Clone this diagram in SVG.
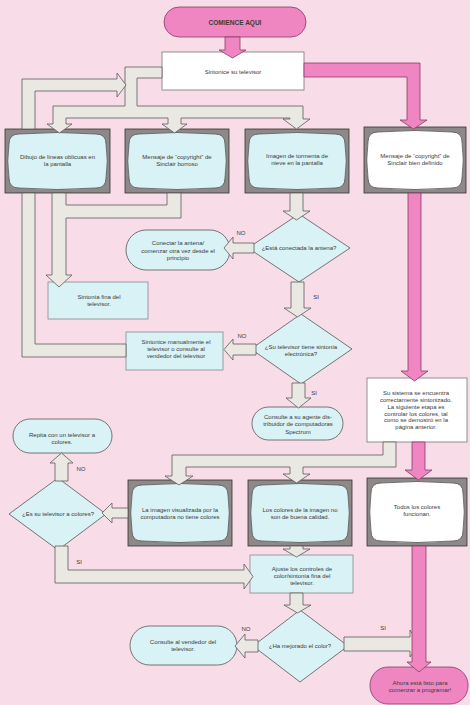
<svg xmlns="http://www.w3.org/2000/svg" width="470" height="705" viewBox="0 0 470 705">
<style>
.bg{fill:#f8dde9}
.pk{fill:#ef86c1;stroke:#8a3a66;stroke-width:.8}
.gr{fill:#e9e8e2;stroke:#5a5a5a;stroke-width:.8}
.cy{fill:#d9f2f5;stroke:#555;stroke-width:.8}
.wh{fill:#fff;stroke:#777;stroke-width:.8}
.fr{fill:#8e8888;stroke:#333;stroke-width:.8}
text{font-family:"Liberation Sans",Arial,sans-serif;font-size:6px;fill:#3a3a3a;text-anchor:middle}
.b{font-weight:bold;font-size:6.5px}
</style>
<rect class="bg" x="0" y="0" width="470" height="705"/>

<g id="start">
<rect class="pk" x="164" y="7" width="142" height="30" rx="15"/>
<text class="b" x="235" y="24.5">COMIENCE AQUI</text>
</g>
<g id="tune">
<rect class="wh" x="162" y="52" width="142" height="38"/>
<text x="233" y="74">Sintonice su televisor</text>
</g>
<g id="tv1">
<rect class="fr" x="5" y="129" width="105" height="64"/>
<path class="cy" d="M19,134 Q57.5,131 96,134 Q106,134 106,144 Q108.5,161 106,178 Q106,188 96,188 Q57.5,191 19,188 Q9,188 9,178 Q6.5,161 9,144 Q9,134 19,134 Z"/>
<text x="57.5" y="159">Dibujo de líneas oblicuas en</text>
<text x="57.5" y="166">la pantalla</text>
</g>
<g id="tv2">
<rect class="fr" x="125" y="129" width="104" height="64"/>
<path class="cy" d="M139,134 Q177,131 215,134 Q225,134 225,144 Q227.5,161 225,178 Q225,188 215,188 Q177,191 139,188 Q129,188 129,178 Q126.5,161 129,144 Q129,134 139,134 Z"/>
<text x="177" y="159">Mensaje de “copyright” de</text>
<text x="177" y="166">Sinclair borroso</text>
</g>
<g id="tv3">
<rect class="fr" x="245" y="129" width="104" height="64"/>
<path class="cy" d="M259,134 Q297,131 335,134 Q345,134 345,144 Q347.5,161 345,178 Q345,188 335,188 Q297,191 259,188 Q249,188 249,178 Q246.5,161 249,144 Q249,134 259,134 Z"/>
<text x="297" y="158">Imagen de tormenta de</text>
<text x="297" y="165">nieve en la pantalla</text>
</g>
<g id="tv4">
<rect class="fr" x="364" y="127" width="102" height="66"/>
<path class="wh" style="stroke:#555" d="M378,132 Q415,129 452,132 Q462,132 462,142 Q464.5,160 462,178 Q462,188 452,188 Q415,191 378,188 Q368,188 368,178 Q365.5,160 368,142 Q368,132 378,132 Z"/>
<text x="415" y="158">Mensaje de “copyright” de</text>
<text x="415" y="165">Sinclair bien definido</text>
</g>
<g id="antena-q">
<polygon class="cy" points="248,248 299,214 350,248 299,282"/>
<text x="299" y="250">¿Está conectada la antena?</text>
</g>
<g id="conectar">
<rect class="cy" x="126" y="230" width="104" height="40" rx="20"/>
<text x="178" y="245">Conectar la antena/</text>
<text x="178" y="252.5">comenzar otra vez desde el</text>
<text x="178" y="260">principio</text>
</g>
<g id="fina">
<rect class="cy" style="stroke:#888" x="48" y="282" width="100" height="37"/>
<text x="99" y="299">Sintonía fina  del</text>
<text x="99" y="306">televisor.</text>
</g>
<g id="electronica-q">
<polygon class="cy" points="251,349 301,314 352,349 301,384"/>
<text x="301" y="349">¿Su televisor tiene sintonía</text>
<text x="301" y="356">electrónica?</text>
</g>
<g id="manual">
<rect class="cy" style="stroke:#888" x="126" y="332" width="97" height="38"/>
<text x="176" y="344">Sintonice manualmente el</text>
<text x="176" y="351">televisor o consulte al</text>
<text x="176" y="358">vendedor del televisor</text>
</g>
<g id="agente">
<rect class="cy" x="252" y="407" width="91" height="33" rx="16.5"/>
<text x="298" y="419">Consulte a su agente dis-</text>
<text x="298" y="426">tribuidor de computadoras</text>
<text x="298" y="433.5">Spectrum</text>
</g>
<g id="sistema">
<rect class="wh" x="367" y="378" width="100" height="64"/>
<text x="416" y="395">Su sistema se encuentra</text>
<text x="416" y="402">correctamente sintonizado.</text>
<text x="416" y="409">La siguiente etapa es</text>
<text x="416" y="415.5">controlar los colores, tal</text>
<text x="416" y="422">como se demostró en la</text>
<text x="416" y="429">página anterior.</text>
</g>
<g id="repita">
<rect class="cy" x="13" y="419" width="99" height="34" rx="17"/>
<text x="62" y="437">Repita con un televisor a</text>
<text x="62" y="444">colores.</text>
</g>
<g id="color-q">
<polygon class="cy" points="9,514 58,478 106,514 58,550"/>
<text x="58" y="516">¿Es su televisor a colores?</text>
</g>
<g id="tv5">
<rect class="fr" x="128" y="480" width="104" height="66"/>
<path class="cy" d="M142,485 Q180,482 218,485 Q228,485 228,495 Q230.5,513 228,531 Q228,541 218,541 Q180,544 142,541 Q132,541 132,531 Q129.5,513 132,495 Q132,485 142,485 Z"/>
<text x="180" y="512">La imagen visualizada por la</text>
<text x="180" y="519">computadora  no  tiene colores</text>
</g>
<g id="tv6">
<rect class="fr" x="248" y="480" width="104" height="66"/>
<path class="cy" d="M262,485 Q300,482 338,485 Q348,485 348,495 Q350.5,513 348,531 Q348,541 338,541 Q300,544 262,541 Q252,541 252,531 Q249.5,513 252,495 Q252,485 262,485 Z"/>
<text x="300" y="512">Los colores de la imagen no</text>
<text x="300" y="519">son de buena calidad.</text>
</g>
<g id="tv7">
<rect class="fr" x="367" y="478" width="100" height="68"/>
<path class="wh" style="stroke:#555" d="M381,483 Q417,480 453,483 Q463,483 463,493 Q465.5,512 463,531 Q463,541 453,541 Q417,544 381,541 Q371,541 371,531 Q368.5,512 371,493 Q371,483 381,483 Z"/>
<text x="417" y="509">Todos los colores</text>
<text x="417" y="516">funcionan.</text>
</g>
<g id="ajuste">
<rect class="cy" style="stroke:#888" x="250" y="555" width="103" height="38"/>
<text x="302" y="571">Ajuste los controles de</text>
<text x="302" y="578">color/sintonía fina del</text>
<text x="302" y="585">televisor.</text>
</g>
<g id="mejorado-q">
<polygon class="cy" points="253,646 300,610 348,646 300,682"/>
<text x="300" y="648">¿Ha mejorado el color?</text>
</g>
<g id="vendedor">
<rect class="cy" x="130" y="626" width="107" height="39" rx="19.5"/>
<text x="183" y="644">Consulte al vendedor del</text>
<text x="183" y="651">televisor.</text>
</g>
<g id="ahora">
<rect class="pk" x="370" y="667" width="98" height="37" rx="18"/>
<text x="420" y="685">Ahora está listo para</text>
<text x="420" y="692">comenzar a programar!</text>
</g>

<g id="connectors">
<polygon class="gr" points="162,67 125,67 125,106 53,106 53,124 47,124 59.5,133 72,124 66,124 66,118 168,118 168,124 162,124 174.5,133 187,124 181,124 181,118 290,118 290,119 283,119 296.5,129 310,119 303,119 303,106 137,106 137,78 162,78"/>
<polygon class="gr" points="22,129 22,79 117,79 117,73 126,85 117,97 117,91 35,91 35,129"/>
<polygon class="gr" points="126,344 35,344 35,193 22,193 22,357 126,357"/>
<polygon class="gr" points="52,193 66,193 66,205 167,205 167,193 181,193 181,218 66,218 66,275 72,275 59,287 46,275 52,275"/>
<polygon class="gr" points="290,193 303,193 303,211 310,211 296.5,220 283,211 290,211"/>
<polygon class="gr" points="254,243 233,243 233,237 224,248 233,259 233,253 254,253"/>
<polygon class="gr" points="291,282 304,282 304,308 311,308 297.5,317 284,308 291,308"/>
<polygon class="gr" points="256,344 233,344 233,339 224,349.5 233,360 233,355 256,355"/>
<polygon class="gr" points="292,383 305,383 305,398 311,398 298.5,408 286,398 292,398"/>
<polygon class="gr" points="383,442 396,442 396,467 303,467 303,474 310,474 296.5,483 283,474 290,474 290,467 186,467 186,476 193,476 179,485 165,476 172,476 172,455 383,455"/>
<polygon class="gr" points="128,508 112,508 112,503 102,513 112,523 112,518 128,518"/>
<polygon class="gr" points="55,481 55,463 50,463 61.5,453 73,463 68,463 68,481"/>
<polygon class="gr" points="55,546 68,546 68,570 244,570 244,564 253,576.5 244,589 244,583 55,583"/>
<polygon class="gr" points="290,546 303,546 303,549 310,549 296.5,557 283,549 290,549"/>
<polygon class="gr" points="290,593 303,593 303,605 311,605 297.5,613 284,605 290,605"/>
<polygon class="gr" points="258,640 245,640 245,634 235,646 245,658 245,652 258,652"/>
<polygon class="gr" points="344,637 410,637 410,630 419,644 410,657 410,651 344,651"/>
<polygon class="pk" points="225,37 240,37 240,50 246,50 232.5,58 219,50 225,50"/>
<polygon class="pk" points="304,63 420,63 420,120 427,120 413.5,129 400,120 407,120 407,77 304,77"/>
<polygon class="pk" points="408,193 421,193 421,371 428,371 414.5,381 401,371 408,371"/>
<polygon class="pk" points="412,442 425,442 425,470 432,470 418.5,480 405,470 412,470"/>
<polygon class="pk" points="412,546 426,546 426,662 431,662 419,672 407,662 412,662"/>
<text x="241" y="235">NO</text>
<text x="316" y="299">SI</text>
<text x="242" y="338">NO</text>
<text x="314" y="395">SI</text>
<text x="81" y="471">NO</text>
<text x="79" y="564">SI</text>
<text x="246" y="631">NO</text>
<text x="383" y="630">SI</text>
</g>
</svg>
